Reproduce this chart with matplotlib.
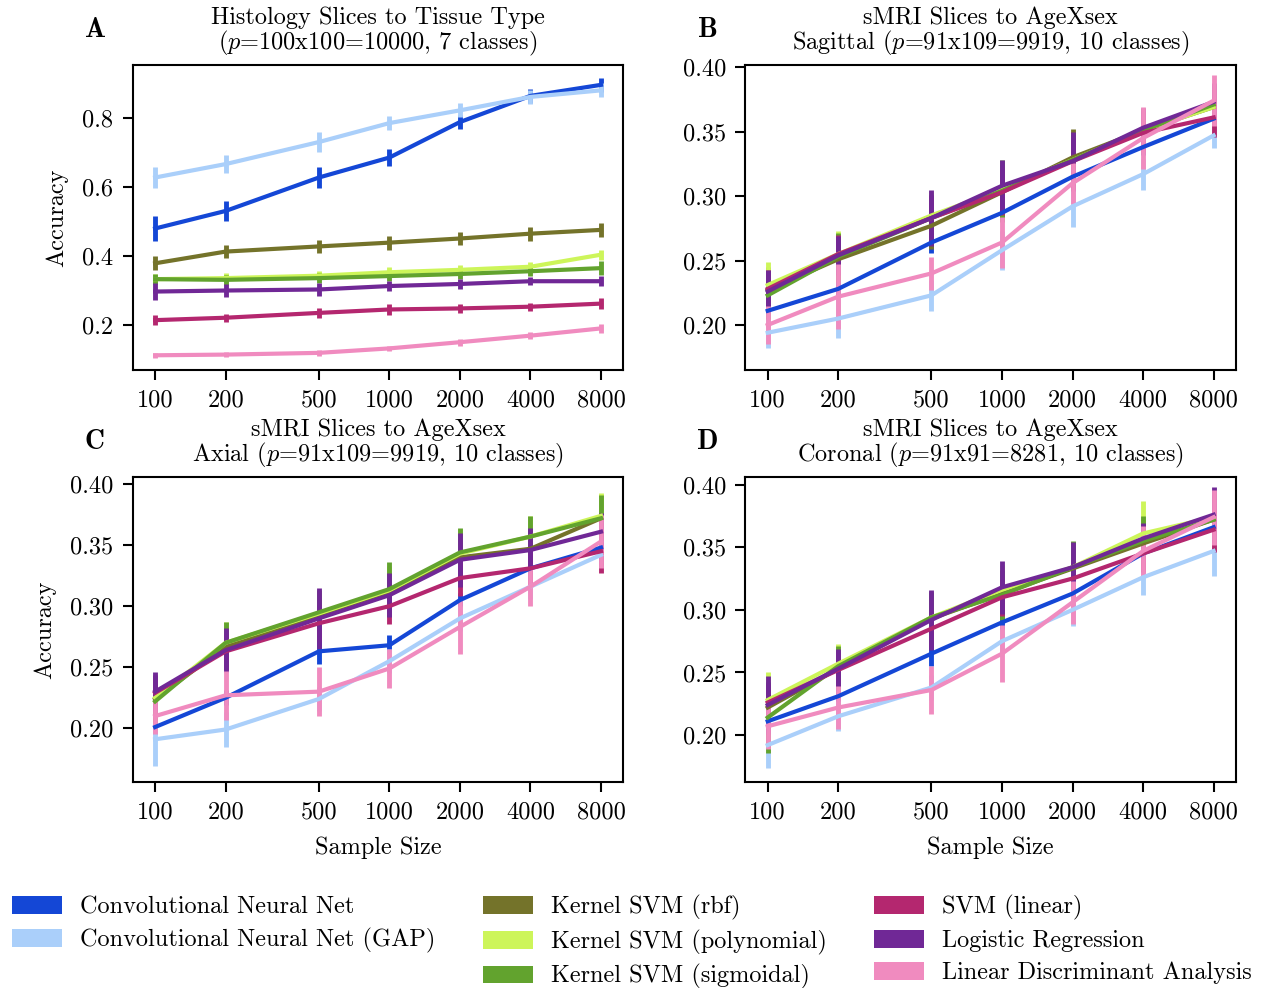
import numpy as np
import matplotlib
matplotlib.use("Agg")
import matplotlib.pyplot as plt
from matplotlib.patches import Patch

plt.rcParams['font.family'] = ['cmr10', 'DejaVu Serif']
plt.rcParams['mathtext.fontset'] = 'cm'
plt.rcParams['axes.formatter.use_mathtext'] = True
plt.rcParams['axes.linewidth'] = 1.5

# sample sizes on the x axis
sizes = [100, 200, 500, 1000, 2000, 4000, 8000]
size_labels = ['100', '200', '500', '1000', '2000', '4000', '8000']

methods = ['Convolutional Neural Net', 'Convolutional Neural Net (GAP)',
           'Kernel SVM (rbf)', 'Kernel SVM (polynomial)', 'Kernel SVM (sigmoidal)',
           'SVM (linear)', 'Logistic Regression', 'Linear Discriminant Analysis']
colors = ['#1447d6', '#aacffa', '#74732a', '#cdf55a', '#62a32e',
          '#b4276f', '#702896', '#f08bbf']

titles = ['Histology Slices to Tissue Type\n($p$=100x100=10000, 7 classes)',
          'sMRI Slices to AgeXsex\nSagittal ($p$=91x109=9919, 10 classes)',
          'sMRI Slices to AgeXsex\nAxial ($p$=91x109=9919, 10 classes)',
          'sMRI Slices to AgeXsex\nCoronal ($p$=91x91=8281, 10 classes)']
panel_letters = ['A', 'B', 'C', 'D']

# mean accuracy, one row per method (same order as methods)
acc_A = [
    [0.480, 0.531, 0.628, 0.686, 0.789, 0.865, 0.897],
    [0.628, 0.667, 0.731, 0.786, 0.823, 0.862, 0.881],
    [0.379, 0.413, 0.428, 0.439, 0.451, 0.465, 0.476],
    [0.333, 0.336, 0.343, 0.353, 0.360, 0.369, 0.404],
    [0.333, 0.331, 0.336, 0.342, 0.348, 0.356, 0.365],
    [0.214, 0.221, 0.235, 0.245, 0.248, 0.253, 0.262],
    [0.297, 0.300, 0.303, 0.313, 0.319, 0.327, 0.327],
    [0.112, 0.114, 0.119, 0.132, 0.150, 0.169, 0.190],
]
err_A = [
    [0.035, 0.030, 0.030, 0.025, 0.020, 0.020, 0.020],
    [0.030, 0.025, 0.030, 0.020, 0.020, 0.020, 0.020],
    [0.020, 0.020, 0.020, 0.020, 0.020, 0.020, 0.020],
    [0.015, 0.015, 0.015, 0.015, 0.015, 0.015, 0.015],
    [0.015, 0.015, 0.015, 0.015, 0.015, 0.015, 0.020],
    [0.015, 0.012, 0.015, 0.015, 0.012, 0.012, 0.015],
    [0.025, 0.020, 0.020, 0.015, 0.015, 0.012, 0.015],
    [0.008, 0.008, 0.008, 0.008, 0.010, 0.010, 0.012],
]

acc_B = [
    [0.211, 0.228, 0.264, 0.287, 0.315, 0.338, 0.360],
    [0.194, 0.205, 0.223, 0.258, 0.292, 0.317, 0.347],
    [0.227, 0.251, 0.277, 0.303, 0.330, 0.351, 0.369],
    [0.231, 0.255, 0.285, 0.305, 0.328, 0.351, 0.369],
    [0.223, 0.253, 0.283, 0.304, 0.328, 0.351, 0.371],
    [0.228, 0.255, 0.283, 0.303, 0.327, 0.349, 0.361],
    [0.226, 0.254, 0.283, 0.308, 0.327, 0.353, 0.373],
    [0.200, 0.222, 0.240, 0.264, 0.310, 0.345, 0.374],
]
err_B = [
    [0.006, 0.006, 0.008, 0.006, 0.006, 0.006, 0.006],
    [0.012, 0.015, 0.012, 0.015, 0.016, 0.012, 0.010],
    [0.018, 0.018, 0.018, 0.020, 0.022, 0.015, 0.015],
    [0.018, 0.018, 0.018, 0.020, 0.020, 0.015, 0.015],
    [0.018, 0.018, 0.018, 0.024, 0.020, 0.015, 0.015],
    [0.015, 0.015, 0.018, 0.018, 0.018, 0.015, 0.015],
    [0.017, 0.015, 0.022, 0.020, 0.023, 0.015, 0.015],
    [0.015, 0.025, 0.013, 0.020, 0.016, 0.024, 0.020],
]

acc_C = [
    [0.201, 0.225, 0.263, 0.268, 0.305, 0.331, 0.348],
    [0.191, 0.199, 0.224, 0.255, 0.290, 0.316, 0.342],
    [0.224, 0.267, 0.293, 0.312, 0.340, 0.347, 0.372],
    [0.225, 0.270, 0.294, 0.313, 0.343, 0.357, 0.374],
    [0.222, 0.270, 0.295, 0.314, 0.344, 0.357, 0.372],
    [0.229, 0.263, 0.286, 0.300, 0.323, 0.331, 0.345],
    [0.230, 0.264, 0.290, 0.309, 0.338, 0.346, 0.361],
    [0.210, 0.227, 0.230, 0.249, 0.283, 0.316, 0.353],
]
err_C = [
    [0.006, 0.006, 0.010, 0.008, 0.006, 0.006, 0.006],
    [0.022, 0.014, 0.010, 0.010, 0.010, 0.010, 0.008],
    [0.018, 0.017, 0.018, 0.020, 0.020, 0.017, 0.019],
    [0.018, 0.017, 0.018, 0.020, 0.020, 0.017, 0.019],
    [0.018, 0.017, 0.018, 0.022, 0.020, 0.017, 0.019],
    [0.015, 0.015, 0.015, 0.015, 0.015, 0.015, 0.018],
    [0.016, 0.018, 0.025, 0.018, 0.022, 0.018, 0.015],
    [0.015, 0.020, 0.020, 0.016, 0.022, 0.016, 0.022],
]

acc_D = [
    [0.211, 0.231, 0.265, 0.290, 0.313, 0.345, 0.366],
    [0.192, 0.215, 0.238, 0.275, 0.300, 0.326, 0.347],
    [0.222, 0.253, 0.293, 0.313, 0.333, 0.353, 0.372],
    [0.228, 0.257, 0.294, 0.316, 0.334, 0.361, 0.374],
    [0.214, 0.255, 0.294, 0.312, 0.334, 0.355, 0.372],
    [0.226, 0.252, 0.285, 0.310, 0.325, 0.345, 0.364],
    [0.224, 0.253, 0.292, 0.318, 0.334, 0.357, 0.376],
    [0.207, 0.222, 0.236, 0.265, 0.306, 0.347, 0.374],
]
err_D = [
    [0.006, 0.006, 0.010, 0.006, 0.006, 0.006, 0.006],
    [0.018, 0.012, 0.010, 0.010, 0.013, 0.014, 0.020],
    [0.020, 0.016, 0.020, 0.020, 0.020, 0.020, 0.020],
    [0.022, 0.016, 0.020, 0.020, 0.020, 0.026, 0.020],
    [0.028, 0.016, 0.020, 0.020, 0.021, 0.020, 0.020],
    [0.015, 0.015, 0.015, 0.015, 0.015, 0.015, 0.018],
    [0.023, 0.016, 0.024, 0.021, 0.020, 0.012, 0.022],
    [0.018, 0.017, 0.019, 0.023, 0.017, 0.020, 0.022],
]

all_acc = [acc_A, acc_B, acc_C, acc_D]
all_err = [err_A, err_B, err_C, err_D]
ylims = [(0.069, 0.954), (0.165, 0.4015), (0.156, 0.4057), (0.1625, 0.406)]
yticks = [[0.2, 0.4, 0.6, 0.8], [0.20, 0.25, 0.30, 0.35, 0.40],
          [0.20, 0.25, 0.30, 0.35, 0.40], [0.20, 0.25, 0.30, 0.35, 0.40]]
yfmt = ['%.1f', '%.2f', '%.2f', '%.2f']

fs = 17.5

fig, axes = plt.subplots(2, 2, figsize=(12.65, 9.88), dpi=100)
fig.subplots_adjust(left=0.105, right=0.977, top=0.934, bottom=0.2085,
                    wspace=0.249, hspace=0.351)

for k, ax in enumerate(axes.flat):
    for i in range(len(methods)):
        ax.errorbar(sizes, all_acc[k][i], yerr=all_err[k][i], color=colors[i],
                    lw=3, elinewidth=3.5, capsize=0)
    ax.set_xscale('log')
    ax.set_xticks(sizes)
    ax.set_xticklabels(size_labels)
    ax.minorticks_off()
    ax.set_ylim(ylims[k])
    ax.set_yticks(yticks[k])
    ax.set_yticklabels([yfmt[k] % v for v in yticks[k]])
    ax.tick_params(labelsize=fs, length=7, width=1.5, pad=7)
    ax.set_title(titles[k], fontsize=fs, pad=11, linespacing=1.03)
    ax.text(-0.078, 1.115, r'$\mathbf{' + panel_letters[k] + '}$', transform=ax.transAxes,
            fontsize=20, ha='center', va='center')

axes[0, 0].set_ylabel('Accuracy', fontsize=fs, labelpad=10)
axes[1, 0].set_ylabel('Accuracy', fontsize=fs, labelpad=10)
axes[1, 0].set_xlabel('Sample Size', fontsize=fs, labelpad=9)
axes[1, 1].set_xlabel('Sample Size', fontsize=fs, labelpad=9)

handles = [Patch(facecolor=c, label=m) for m, c in zip(methods, colors)]
# blank slot so that the first legend column holds only the two CNN entries
handles.insert(2, Patch(facecolor='none', edgecolor='none', label=' '))
fig.legend(handles=handles, loc='upper left', bbox_to_anchor=(0.0095, 0.094),
           ncol=3, frameon=False, fontsize=fs, handlelength=2.05,
           handleheight=0.75, handletextpad=0.75, columnspacing=1.95,
           labelspacing=0.39, borderpad=0, borderaxespad=0)

fig.savefig('out.png', dpi=100)
